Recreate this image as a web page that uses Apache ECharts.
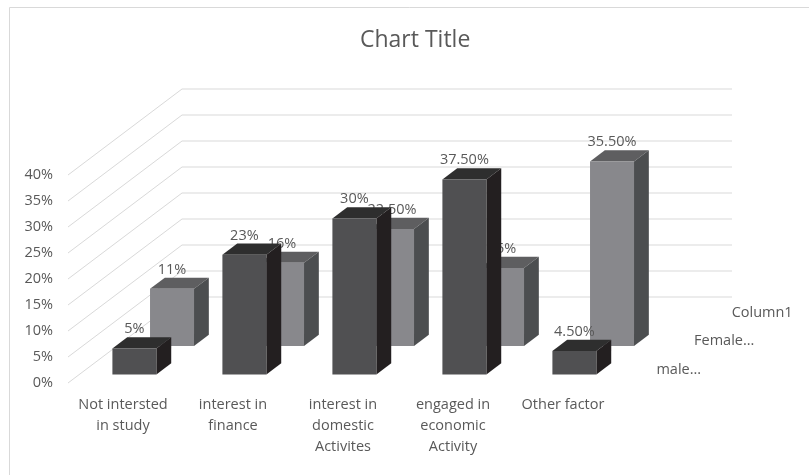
<!DOCTYPE html>
<html><head><meta charset="utf-8">
<style>html,body{margin:0;padding:0;background:#fff}#c{width:809px;height:475px}</style>
<script src="https://cdn.jsdelivr.net/npm/echarts@6/dist/echarts.min.js"></script>
</head><body><div id="c"></div>
<script>
const categories = ['Not intersted\nin study','interest in\nfinance','interest in\ndomestic\nActivites','engaged in\neconomic\nActivity','Other factor'];
const depthLabels = ['male...','Female...','Column1'];
const male = [5,23,30,37.5,4.5];
const female = [11,16,22.5,15,35.5];
const maleLabels = ['5%','23%','30%','37.50%','4.50%'];
const femaleLabels = ['11%','16%','22.50%','15%','35.50%'];
const ticks = [0,5,10,15,20,25,30,35,40];

const FONT = '"Open Sans"';
const TXT = '#595959';
const DX = 114, DY = -86;
const BAR_W = 0.4, BAR_D = 0.13;
const maleT = 0.1, femaleT = 0.43, emptyT = 0.76;
const chart = echarts.init(document.getElementById('c'), null, {renderer:'canvas'});

function barSeries(name, vals, labels, t, cols, z){
  return {
    type:'custom', name, z, coordinateSystem:'cartesian2d', silent:true,
    data: vals.map((v,i)=>[i,v,labels[i]]),
    encode:{x:0,y:1},
    renderItem(p, api){
      const i = api.value(0), v = api.value(1);
      const band = api.size([1,0])[0];
      const c0 = api.coord([i,0]);
      const top = api.coord([i,v])[1];
      const ox = DX*t, oy = DY*t, dx = DX*BAR_D, dy = DY*BAR_D;
      const x0 = c0[0]-band*BAR_W/2+ox, x1 = c0[0]+band*BAR_W/2+ox, yb = c0[1]+oy, yt = top+oy;
      const poly = (pts,fill)=>({type:'polygon',shape:{points:pts},style:{fill}});
      return {type:'group',children:[
        poly([[x0,yt],[x1,yt],[x1+dx,yt+dy],[x0+dx,yt+dy]],cols.top),
        poly([[x1,yb],[x1+dx,yb+dy],[x1+dx,yt+dy],[x1,yt]],cols.side),
        poly([[x0,yb],[x1,yb],[x1,yt],[x0,yt]],cols.front),
        {type:'text',style:{text:api.value(2),x:(x0+x1)/2,y:yt+dy-8,align:'center',verticalAlign:'middle',
          fill:TXT,font:'14.5px '+FONT}}
      ]};
    }
  };
}

const option = {
  animation:false,
  backgroundColor:'#fff',
  title:{text:'Chart Title',left:355,top:24,
    textStyle:{color:TXT,fontSize:23,fontWeight:'normal',fontFamily:FONT}},
  grid:{left:68,top:175,width:550,height:208,containLabel:false},
  xAxis:{type:'category',data:categories,
    axisLine:{show:false},axisTick:{show:false},splitLine:{show:false},
    axisLabel:{color:TXT,fontSize:14.5,fontFamily:FONT,lineHeight:21,margin:11,interval:0}},
  yAxis:{type:'value',min:0,max:40,interval:5,
    axisLine:{show:false},axisTick:{show:false},splitLine:{show:false},
    axisLabel:{color:TXT,fontSize:14.5,fontFamily:FONT,margin:15,formatter:'{value}%'}},
  graphic:[{type:'rect',shape:{x:9.5,y:7.5,width:820,height:480},
    style:{fill:'none',stroke:'#d9d9d9',lineWidth:1},silent:true,z:-1}],
  series:[
    {type:'custom',name:'wall',z:1,silent:true,coordinateSystem:'cartesian2d',
      data:ticks.map(v=>[0,v]),encode:{x:0,y:1},
      renderItem(p,api){
        const band = api.size([1,0])[0];
        const c = api.coord([0,api.value(1)]);
        const e = api.coord([4,api.value(1)]);
        const ax = c[0]-band/2, bx = e[0]+band/2;
        return {type:'polyline',shape:{points:[[ax,c[1]],[ax+DX,c[1]+DY],[bx+DX,c[1]+DY]]},
          style:{fill:'none',stroke:'#d9d9d9',lineWidth:1}};
      }},
    barSeries('Female',female,femaleLabels,femaleT,{front:'#88888c',top:'#5e5e60',side:'#4c4e50'},2),
    barSeries('male',male,maleLabels,maleT,{front:'#505052',top:'#2e2e2e',side:'#231f20'},3),
    {type:'custom',name:'depth',z:4,silent:true,coordinateSystem:'cartesian2d',
      data:depthLabels.map((s,i)=>[4,0,s,[maleT,femaleT,emptyT][i]]),encode:{x:0,y:1},
      renderItem(p,api){
        const band = api.size([1,0])[0];
        const q = api.coord([4,0]), t = api.value(3);
        return {type:'text',style:{text:api.value(2),x:q[0]+band/2+DX*t+27,y:q[1]+DY*t-5,align:'left',verticalAlign:'middle',
          fill:TXT,font:'14.5px '+FONT}};
      }}
  ]
};
chart.setOption(option);
</script></body></html>
